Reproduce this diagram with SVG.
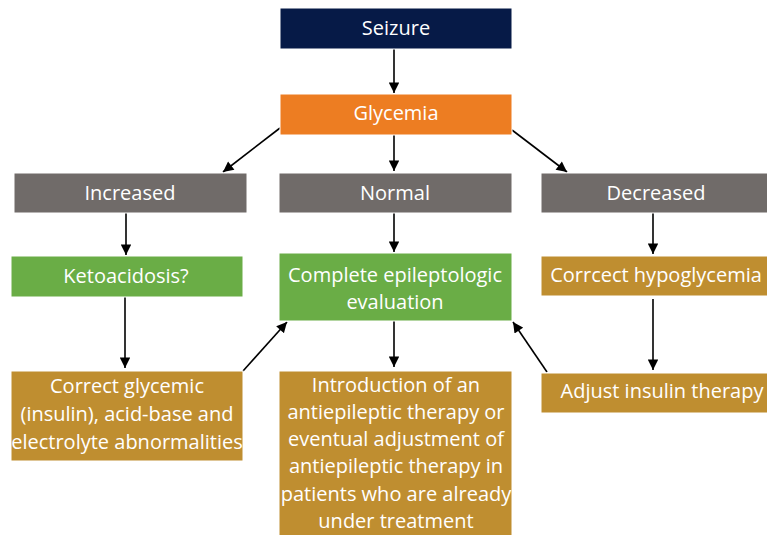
<svg xmlns="http://www.w3.org/2000/svg" width="767" height="535" viewBox="0 0 767 535">
<defs>
<style>
.b{stroke:#ffffff;stroke-width:1}
.t{font-family:"Open Sans","Noto Sans","DejaVu Sans",sans-serif;font-size:20px;fill:#ffffff;text-anchor:middle}
.c{stroke:#000000;stroke-width:1.6;fill:none;marker-end:url(#ah)}
</style>
<marker id="ah" viewBox="0 0 10 10" refX="10" refY="5" markerWidth="7" markerHeight="6.5" markerUnits="strokeWidth" orient="auto">
<path d="M0,0 L10,5 L0,10 z" fill="#000000"/>
</marker>
</defs>
<rect width="767" height="535" fill="#ffffff"/>
<g id="connectors">
<line class="c" x1="394" y1="49" x2="394" y2="93"/>
<line class="c" x1="280" y1="128" x2="223" y2="172"/>
<line class="c" x1="394" y1="135" x2="394" y2="171"/>
<line class="c" x1="512" y1="130" x2="567" y2="172"/>
<line class="c" x1="126" y1="213" x2="126" y2="255"/>
<line class="c" x1="394" y1="213" x2="394" y2="252"/>
<line class="c" x1="653" y1="213" x2="653" y2="254"/>
<line class="c" x1="125" y1="297" x2="125" y2="368"/>
<line class="c" x1="243" y1="371" x2="287" y2="322"/>
<line class="c" x1="394" y1="321" x2="394" y2="367"/>
<line class="c" x1="653" y1="299" x2="653" y2="370"/>
<line class="c" x1="547" y1="372" x2="513" y2="322"/>
</g>
<g id="seizure">
<rect class="b" x="280" y="8" width="232" height="41" fill="#061A47"/>
<text class="t" x="396" y="35">Seizure</text>
</g>
<g id="glycemia">
<rect class="b" x="280" y="94" width="232" height="41" fill="#ED7D22"/>
<text class="t" x="396" y="120">Glycemia</text>
</g>
<g id="increased">
<rect class="b" x="14" y="173" width="233" height="40" fill="#706B69"/>
<text class="t" x="130" y="200">Increased</text>
</g>
<g id="normal">
<rect class="b" x="279" y="173" width="233" height="40" fill="#706B69"/>
<text class="t" x="395" y="200">Normal</text>
</g>
<g id="decreased">
<rect class="b" x="541" y="173" width="227" height="40" fill="#706B69"/>
<text class="t" x="656" y="200">Decreased</text>
</g>
<g id="ketoacidosis">
<rect class="b" x="11" y="256" width="232" height="41" fill="#6AAD46"/>
<text class="t" x="126" y="283">Ketoacidosis?</text>
</g>
<g id="complete">
<rect class="b" x="279" y="253" width="233" height="68" fill="#6AAD46"/>
<text class="t" x="395" y="282">Complete epileptologic</text>
<text class="t" x="395" y="309">evaluation</text>
</g>
<g id="hypoglycemia">
<rect class="b" x="541" y="256" width="227" height="40" fill="#BF8E30"/>
<text class="t" x="656" y="282">Corrcect hypoglycemia</text>
</g>
<g id="correct-glycemic">
<rect class="b" x="11" y="371" width="232" height="90" fill="#BF8E30"/>
<text class="t" x="127" y="393">Correct glycemic</text>
<text class="t" x="127" y="421">(insulin), acid-base and</text>
<text class="t" x="127" y="449">electrolyte abnormalities</text>
</g>
<g id="introduction">
<rect class="b" x="279" y="371" width="233" height="170" fill="#BF8E30"/>
<text class="t" x="396" y="392">Introduction of an</text>
<text class="t" x="396" y="419">antiepileptic therapy or</text>
<text class="t" x="396" y="446">eventual adjustment of</text>
<text class="t" x="396" y="473">antiepileptic therapy in</text>
<text class="t" x="396" y="501">patients who are already</text>
<text class="t" x="396" y="528">under treatment</text>
</g>
<g id="adjust">
<rect class="b" x="541" y="373" width="227" height="40" fill="#BF8E30"/>
<text class="t" x="662" y="398">Adjust insulin therapy</text>
</g>
</svg>
